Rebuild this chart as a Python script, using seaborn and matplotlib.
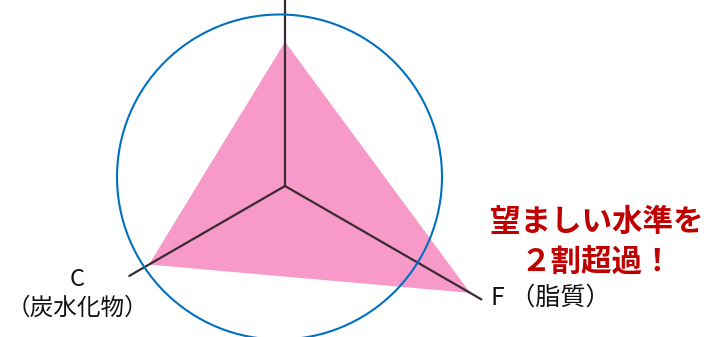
import numpy as np
import pandas as pd
import matplotlib
matplotlib.use("Agg")
import matplotlib.pyplot as plt
import seaborn as sns
from matplotlib.patches import Circle

# ---- data ----
axes_names = ["P", "C", "F"]
axis_labels = ["P（たんぱく質）", "C\n（炭水化物）", "F （脂質）"]
angles_deg = [90, 210, 330]
values = [0.89, 0.97, 1.32]          # ratio to the desirable level (circle = 1.0)
axis_lengths = [1.25, 1.11, 1.40]
note_lines = ["望ましい水準を", "２割超過！"]

sns.set_theme(style="white")
plt.rcParams['font.family'] = ['Noto Sans CJK JP', 'DejaVu Sans']

W, H = 713, 337
S = 162.0  # pixels per unit
cx, cy = 285, 186

fig = plt.figure(figsize=(W / 100, H / 100), dpi=100)
ax = fig.add_axes([0, 0, 1, 1])
ax.set_xlim(-cx / S, (W - cx) / S)
ax.set_ylim(-(H - cy) / S, cy / S)
ax.set_aspect('equal')
ax.axis('off')

ang = np.deg2rad(angles_deg)
df = pd.DataFrame({"axis": axes_names, "ang": ang, "val": values, "len": axis_lengths})
df["x"] = df["val"] * np.cos(df["ang"])
df["y"] = df["val"] * np.sin(df["ang"])

# filled triangle
ax.fill(df["x"], df["y"], color="#F799C9", lw=0, zorder=1)

# spokes
spokes = []
for _, r in df.iterrows():
    spokes.append({"axis": r["axis"], "x": 0.0, "y": 0.0, "o": 0})
    spokes.append({"axis": r["axis"], "x": r["len"] * np.cos(r["ang"]),
                   "y": r["len"] * np.sin(r["ang"]), "o": 1})
sp = pd.DataFrame(spokes)
sns.lineplot(data=sp, x="x", y="y", units="axis", estimator=None, sort=False,
             color="#3a2a32", lw=1.6, ax=ax, zorder=3)

# desirable-level circle
circ = Circle((-5.5 / S, 9 / S), 162.5 / S, fill=False, ec="#0070C0", lw=1.5, zorder=4)
ax.add_patch(circ)

def px(x, y):
    return (x - cx) / S, (cy - y) / S

# labels
ax.text(*px(296, 1), axis_labels[0], ha='center', va='bottom', fontsize=13, color='#111111')
ax.text(*px(77, 279), "C", ha='center', va='center', fontsize=17, color='#111111')
ax.text(*px(77, 308), "（炭水化物）", ha='center', va='center', fontsize=17, color='#111111')
ax.text(*px(491, 298), axis_labels[2], ha='left', va='center', fontsize=18, color='#111111')

ax.text(*px(597, 222), note_lines[0], ha='center', va='center', fontsize=22,
        fontweight='bold', color='#C00000')
ax.text(*px(597, 262), note_lines[1], ha='center', va='center', fontsize=22,
        fontweight='bold', color='#C00000')

if ax.get_legend():
    ax.get_legend().remove()
fig.savefig("out.png", dpi=100, facecolor='white')
